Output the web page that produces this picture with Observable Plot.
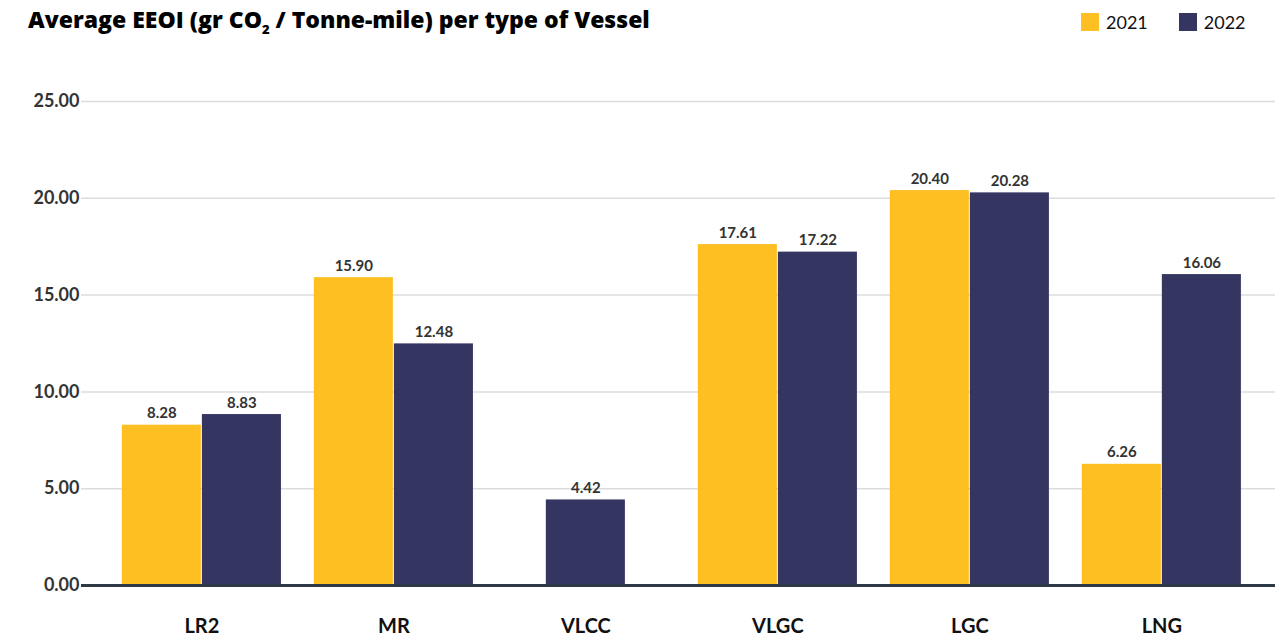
<!DOCTYPE html>
<html><head><meta charset="utf-8">
<script src="https://cdn.jsdelivr.net/npm/d3@7"></script>
<script src="https://cdn.jsdelivr.net/npm/@observablehq/plot@0.6"></script>
<style>
body{margin:0;background:#fff;font-family:Lato, sans-serif;width:1284px;height:640px;position:relative;overflow:hidden}
#title{position:absolute;left:28px;top:3px;font-family:"Open Sans",sans-serif;font-weight:800;font-size:23px;color:#000;letter-spacing:0px;white-space:nowrap}
#title sub{font-size:13px;vertical-align:-6px;line-height:0}
#legend{position:absolute;top:11px;left:1081px;display:flex;align-items:center;font-size:18px;color:#111}
.sw{width:18px;height:18px;display:inline-block;margin-right:7px}
.item{display:flex;align-items:center;margin-right:31px}
#chart{position:absolute;left:0;top:50px}
</style></head>
<body>
<div id="title">Average EEOI (gr CO<sub>2</sub> / Tonne-mile) per type of Vessel</div>
<div id="legend"></div>
<div id="chart"></div>
<script>
const categories = ["LR2","MR","VLCC","VLGC","LGC","LNG"];
const years = ["2021","2022"];
const values2021 = [8.28, 15.90, null, 17.61, 20.40, 6.26];
const values2022 = [8.83, 12.48, 4.42, 17.22, 20.28, 16.06];
const yTicks = [0, 5, 10, 15, 20, 25];
const colors = ["#fdbf22", "#353562"];

const rows = [];
categories.forEach((c, i) => {
  const vals = [values2021[i], values2022[i]];
  const present = years.filter((y, k) => vals[k] != null);
  present.forEach((y, k) => rows.push({cat: c, i, year: y, value: vals[years.indexOf(y)], slot: k, n: present.length}));
});
const hw = 0.417;
const x1 = d => d.i - hw * d.n / 2 + d.slot * hw;
const x2 = d => x1(d) + hw;

const legend = document.getElementById("legend");
years.forEach((y, k) => {
  const it = document.createElement("div"); it.className = "item";
  it.innerHTML = `<span class="sw" style="background:${colors[k]}"></span><span>${y}</span>`;
  legend.appendChild(it);
});

const chart = Plot.plot({
  width: 1284, height: 590,
  marginTop: 51, marginBottom: 55, marginLeft: 81, marginRight: 9,
  style: {fontFamily: "Lato, sans-serif", background: "transparent"},
  x: {type: "linear", domain: [-0.627, 5.592], axis: null},
  y: {domain: [0, 25], axis: null},
  color: {domain: years, range: colors},
  marks: [
    Plot.gridY(yTicks, {stroke: "#dcdcdc", strokeOpacity: 1, strokeWidth: 1.5}),
    Plot.axisY(yTicks, {tickSize: 0, tickPadding: 2, tickFormat: d3.format(".2f"), fontSize: 18, fontWeight: "bold", color: "#333", label: null, style: {letterSpacing: "1.1px"}}),
    Plot.axisX(d3.range(categories.length), {tickSize: 0, tickPadding: 33, tickFormat: i => categories[i], fontSize: 20, fontWeight: "bold", color: "#111", label: null, style: {letterSpacing: "1px"}}),
    Plot.rectY(rows, {x1, x2, y: "value", fill: "year", insetLeft: 0.5, insetRight: 0.5}),
    Plot.ruleY([0], {stroke: "#2d3a45", strokeWidth: 3}),
    Plot.text(rows, {x: d => (x1(d) + x2(d)) / 2, y: "value", text: d => d.value.toFixed(2), lineAnchor: "bottom", dy: -7, fontSize: 15, fontWeight: "bold", fill: "#333", style: {letterSpacing: "0.5px"}})
  ]
});
document.getElementById("chart").appendChild(chart);
</script>
</body></html>
